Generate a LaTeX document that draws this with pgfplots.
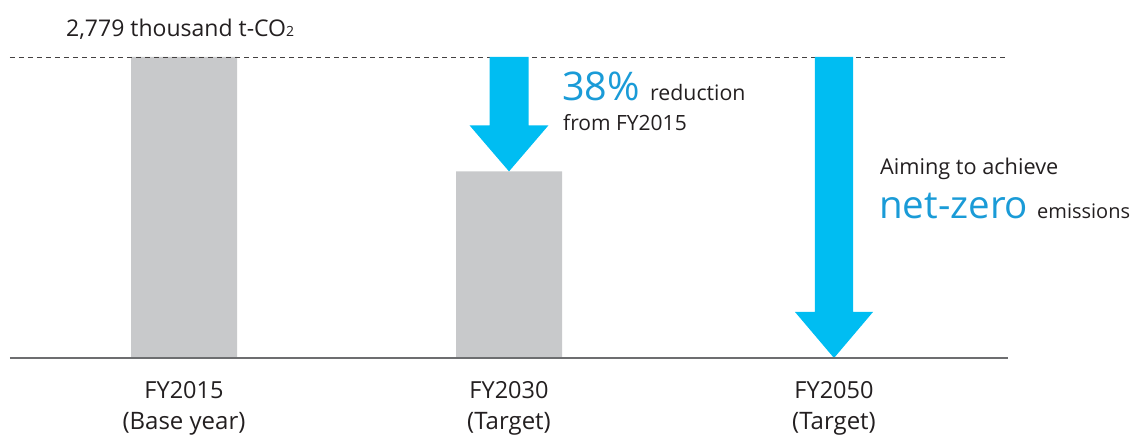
\documentclass[border=0pt]{standalone}
\usepackage{fontspec}
\setmainfont{Open Sans}
\usepackage{pgfplots}
\pgfplotsset{compat=1.18}
\definecolor{bargray}{HTML}{C8C9CB}
\definecolor{arrowcyan}{HTML}{00BDF2}
\definecolor{txtblue}{HTML}{1A9BD7}
\definecolor{txtdark}{HTML}{231F20}
\definecolor{axisgray}{HTML}{6D6E70}
\newcommand{\fs}[1]{\fontsize{#1}{#1}\selectfont}
\begin{document}
\begin{tikzpicture}
\useasboundingbox (0pt,0pt) rectangle (1133pt,439pt);
\begin{axis}[
  at={(10pt,81pt)}, anchor=south west,
  scale only axis, width=998pt, height=301pt,
  xmin=-0.5354, xmax=2.5354, ymin=0, ymax=2779,
  hide axis, clip=false,
]
% bars
\addplot[ybar, bar width=106pt, fill=bargray, draw=none] coordinates {(0,2779) (1,1723)};
% dashed reference line
\addplot[draw=txtdark!85, line width=0.9pt, dash pattern=on 5pt off 4pt] coordinates {(-0.5354,2779) (2.5354,2779)};
% arrows
\addplot[fill=arrowcyan, draw=none] coordinates {(0.94,2779) (1.06,2779) (1.06,2148) (1.1215,2148) (1,1723) (0.8785,2148) (0.94,2148)} -- cycle;
\addplot[fill=arrowcyan, draw=none] coordinates {(1.9415,2779) (2.0585,2779) (2.0585,425) (2.12,425) (2,0) (1.88,425) (1.9415,425)} -- cycle;
% baseline
\addplot[draw=axisgray, line width=1.4pt] coordinates {(-0.5354,0) (2.5354,0)};
\end{axis}
% texts
\node[anchor=base west, inner sep=0pt, text=txtdark] at (66pt,402pt) {\fs{23}2,779 thousand t-CO{\fs{14}2}};
\node[anchor=base west, inner sep=0pt, text=txtblue] at (562pt,338pt) {\fs{39.5}38\%};
\node[anchor=base west, inner sep=0pt, text=txtdark] at (650pt,338pt) {\fs{21.3}reduction};
\node[anchor=base west, inner sep=0pt, text=txtdark] at (563pt,308pt) {\fs{21}from FY2015};
\node[anchor=base west, inner sep=0pt, text=txtdark] at (880pt,264pt) {\fs{21.7}Aiming to achieve};
\node[anchor=base west, inner sep=0pt, text=txtblue] at (879pt,220pt) {\fs{38.5}net-zero};
\node[anchor=base west, inner sep=0pt, text=txtdark] at (1037pt,220pt) {\fs{20}emissions};
% category labels
\foreach \x/\a/\b in {184/FY2015/(Base year), 509/FY2030/(Target), 834/FY2050/(Target)} {
  \node[anchor=base, inner sep=0pt, text=txtdark] at (\x pt,40pt) {\fs{23.5}\a};
  \node[anchor=base, inner sep=0pt, text=txtdark] at (\x pt,9pt) {\fs{24}\b};
}
\end{tikzpicture}
\end{document}
